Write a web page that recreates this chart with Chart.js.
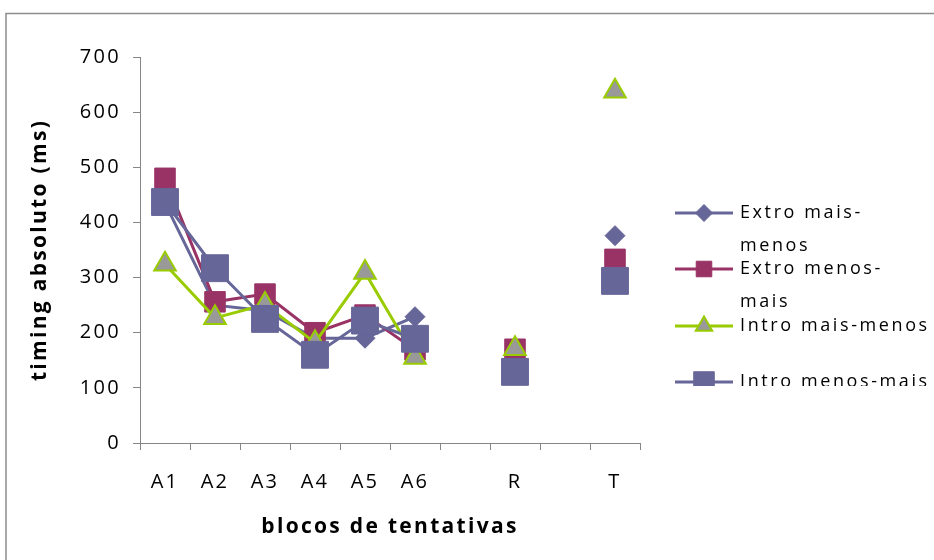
<!DOCTYPE html>
<html><head><meta charset="utf-8">
<script src="https://cdn.jsdelivr.net/npm/chart.js@4/dist/chart.umd.min.js"></script>
<style>html,body{margin:0;padding:0;background:#fff;}#wrap{width:934px;height:560px;position:relative;}</style>
</head><body><div id="wrap"><canvas id="c" width="934" height="560"></canvas></div>
<script>
const categories = ['A1','A2','A3','A4','A5','A6','','R','','T'];
const seriesNames = ['Extro mais-menos','Extro menos-mais','Intro mais-menos','Intro menos-mais'];
const legendLines = [['Extro mais-','menos'],['Extro menos-','mais'],['Intro mais-menos'],['Intro menos-mais']];
const extroMaisMenos = [435, 250, 240, 190, 190, 229, null, 135, null, 376];
const extroMenosMais = [480, 256, 270, 200, 232, 169, null, 170, null, 333];
const introMaisMenos = [324, 227, 251, 182, 309, 155, null, 171, null, 638];
const introMenosMais = [437, 317, 225, 160, 222, 189, null, 129, null, 294];
const yMin = 0, yMax = 700, yStep = 100;
const xTitle = 'blocos de tentativas';
const yTitle = 'timing absoluto (ms)';

const FONT = '"Open Sans", "Liberation Sans", sans-serif';
const AXIS = '#868686';

const styles = [
  {pointStyle:'rectRot', r:10, lr:8.5, line:'#666699', fill:'#666699', border:'#666699', bw:1},
  {pointStyle:'rect', r:14.5, lr:11, line:'#993366', fill:'#993366', border:'#993366', bw:1},
  {pointStyle:'triangle', r:12.5, lr:9.5, line:'#99CC00', fill:'#999999', border:'#99CC00', bw:2},
  {pointStyle:'rect', r:19, lr:14.5, line:'#666699', fill:'#666699', border:'#666699', bw:1}
];
const seriesData = [extroMaisMenos, extroMenosMais, introMaisMenos, introMenosMais];

const spacingPlugin = {
  id:'spacing',
  beforeInit(chart){ chart.ctx.letterSpacing = '2.3px'; },
  beforeDraw(chart){
    const ctx = chart.ctx;
    ctx.letterSpacing = '2.3px';
    ctx.save();
    ctx.strokeStyle = '#8c8c8c';
    ctx.lineWidth = 1.5;
    ctx.strokeRect(6, 13.5, 2000, 2000);
    ctx.restore();
  }
};

const legendPlugin = {
  id:'customLegend',
  afterDraw(chart){
    const ctx = chart.ctx;
    ctx.save();
    ctx.beginPath();
    ctx.rect(640, 0, 294, 386);
    ctx.clip();
    const itemY = [213, 269, 326, 382];
    ctx.font = '18px ' + FONT;
    ctx.letterSpacing = '2.6px';
    ctx.fillStyle = '#000';
    ctx.textBaseline = 'middle';
    ctx.textAlign = 'left';
    seriesNames.forEach((name, i) => {
      const s = styles[i];
      const y = itemY[i];
      ctx.strokeStyle = s.line;
      ctx.lineWidth = 3;
      ctx.beginPath();
      ctx.moveTo(675, y); ctx.lineTo(733, y);
      ctx.stroke();
      ctx.fillStyle = s.fill;
      ctx.strokeStyle = s.border;
      ctx.lineWidth = s.bw;
      Chart.helpers.drawPoint(ctx, {pointStyle:s.pointStyle, radius:s.lr, rotation:0, borderWidth:s.bw}, 704, y);
      ctx.fillStyle = '#000';
      legendLines[i].forEach((ln, k) => ctx.fillText(ln, 740, y + k * 33));
    });
    ctx.restore();
  }
};

new Chart(document.getElementById('c'), {
  type:'line',
  data:{
    labels: categories,
    datasets: seriesData.map((d, i) => ({
      label: seriesNames[i],
      data: d,
      order: 3 - i,
      borderColor: styles[i].line,
      borderWidth: 3,
      backgroundColor: styles[i].fill,
      pointStyle: styles[i].pointStyle,
      pointRadius: styles[i].r,
      pointHoverRadius: styles[i].r,
      pointBackgroundColor: styles[i].fill,
      pointBorderColor: styles[i].border,
      pointBorderWidth: styles[i].bw,
      spanGaps: false,
      tension: 0,
      fill: false
    }))
  },
  options:{
    responsive:false,
    animation:false,
    devicePixelRatio:1,
    layout:{padding:{left:0, top:57, right:294, bottom:0}},
    plugins:{legend:{display:false}, tooltip:{enabled:false}},
    scales:{
      x:{
        offset:true,
        grid:{offset:true, drawOnChartArea:false, drawTicks:true, tickLength:7, color:AXIS},
        border:{color:AXIS, width:1},
        ticks:{color:'#000', padding:20, font:{family:FONT, size:20}, maxRotation:0, autoSkip:false},
        title:{display:true, text:xTitle, color:'#000', font:{family:FONT, size:21, weight:'bold'}, padding:{top:0,bottom:20}},
        afterFit(s){ s.height = 117; }
      },
      y:{
        min:yMin, max:yMax,
        grid:{drawOnChartArea:false, drawTicks:true, tickLength:7, color:AXIS},
        border:{color:AXIS, width:1},
        ticks:{stepSize:yStep, color:'#000', padding:12, font:{family:FONT, size:20}},
        title:{display:true, text:yTitle, color:'#000', font:{family:FONT, size:21, weight:'bold'}, padding:{top:27,bottom:0}},
        afterFit(s){ s.width = 140; }
      }
    }
  },
  plugins:[spacingPlugin, legendPlugin]
});
</script></body></html>
